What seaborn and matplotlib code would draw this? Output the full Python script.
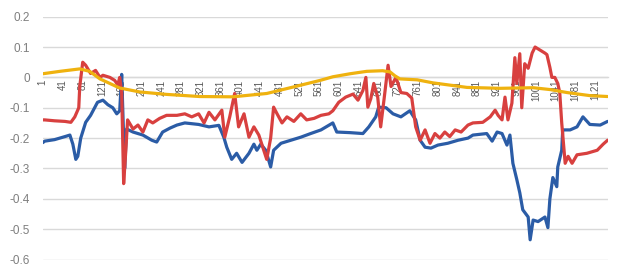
import numpy as np
import pandas as pd
import matplotlib
matplotlib.use("Agg")
import matplotlib.pyplot as plt
import seaborn as sns

# ---- data (index positions and values) ----
yellow_x = [1, 36, 76, 96, 117, 137, 157, 198, 252, 319, 386, 455, 508, 563, 589, 624,
            658, 690, 705, 715, 725, 760, 792, 861, 928, 995, 1029, 1064, 1110, 1146]
yellow_y = [0.012, 0.02, 0.028, 0.02, -0.005, -0.02, -0.035, -0.048, -0.056, -0.063, -0.064,
            -0.053, -0.032, -0.01, 0.002, 0.012, 0.02, 0.022, 0.018, 0.005, -0.005, -0.008,
            -0.018, -0.033, -0.036, -0.034, -0.04, -0.05, -0.06, -0.063]

blue_x = [1, 5, 25, 46, 56, 62, 68, 72, 78, 88, 98, 112, 123, 133, 143, 151, 157, 161, 165, 167,
          171, 184, 204, 222, 232, 244, 259, 273, 289, 317, 338, 358, 368, 374, 384, 394, 405,
          419, 429, 435, 443, 453, 463, 469, 484, 504, 524, 544, 565, 589, 597, 624, 650, 662,
          676, 682, 697, 711, 727, 745, 757, 766, 776, 788, 802, 822, 843, 863, 873, 901, 912,
          922, 932, 942, 948, 954, 962, 968, 974, 985, 989, 995, 1005, 1019, 1025, 1029, 1035,
          1043, 1045, 1053, 1055, 1070, 1084, 1096, 1110, 1131, 1146]
blue_y = [-0.215, -0.21, -0.205, -0.195, -0.19, -0.22, -0.27, -0.26, -0.2, -0.148, -0.125,
          -0.082, -0.075, -0.09, -0.1, -0.12, -0.11, 0.01, -0.2, -0.3, -0.17, -0.18, -0.19,
          -0.207, -0.213, -0.18, -0.167, -0.157, -0.15, -0.155, -0.163, -0.158, -0.197, -0.23,
          -0.27, -0.25, -0.28, -0.25, -0.22, -0.24, -0.22, -0.24, -0.295, -0.24, -0.217,
          -0.207, -0.197, -0.185, -0.173, -0.15, -0.18, -0.182, -0.185, -0.163, -0.13, -0.098,
          -0.1, -0.12, -0.13, -0.11, -0.14, -0.207, -0.23, -0.233, -0.223, -0.217, -0.207,
          -0.2, -0.19, -0.185, -0.21, -0.18, -0.185, -0.223, -0.19, -0.283, -0.337, -0.38,
          -0.436, -0.46, -0.535, -0.47, -0.475, -0.46, -0.495, -0.4, -0.33, -0.36, -0.295,
          -0.24, -0.173, -0.173, -0.163, -0.13, -0.155, -0.157, -0.145]

red_x = [1, 5, 25, 46, 58, 66, 74, 76, 82, 88, 98, 108, 117, 123, 137, 147, 153, 157, 161, 165,
         169, 173, 184, 194, 204, 214, 224, 238, 252, 273, 289, 303, 317, 328, 338, 350, 364,
         370, 380, 390, 398, 409, 419, 429, 439, 449, 455, 463, 469, 476, 486, 496, 510, 524,
         536, 551, 565, 581, 589, 601, 615, 630, 640, 650, 656, 660, 666, 672, 680, 686, 693,
         701, 707, 717, 727, 739, 749, 757, 766, 776, 786, 796, 806, 816, 826, 837, 849, 863,
         873, 893, 908, 918, 924, 932, 938, 944, 952, 958, 962, 968, 972, 978, 985, 993, 999,
         1009, 1019, 1023, 1029, 1033, 1039, 1045, 1049, 1053, 1060, 1066, 1074, 1084, 1104,
         1125, 1137, 1146]
red_y = [-0.14, -0.14, -0.143, -0.145, -0.148, -0.13, -0.1, -0.03, 0.05, 0.04, 0.013, 0.023,
         0.0, 0.007, 0.0, -0.01, -0.025, 0.0, -0.05, -0.35, -0.25, -0.14, -0.17, -0.157, -0.18,
         -0.14, -0.15, -0.135, -0.125, -0.125, -0.12, -0.13, -0.12, -0.15, -0.115, -0.14,
         -0.108, -0.197, -0.13, -0.053, -0.163, -0.12, -0.197, -0.163, -0.19, -0.24, -0.27,
         -0.2, -0.098, -0.12, -0.15, -0.13, -0.145, -0.12, -0.14, -0.135, -0.125, -0.12,
         -0.11, -0.082, -0.065, -0.055, -0.075, -0.043, 0.0, -0.098, -0.07, -0.02, -0.065,
         -0.163, -0.07, 0.04, -0.03, 0.0, -0.05, -0.053, -0.068, -0.163, -0.207, -0.173,
         -0.217, -0.185, -0.2, -0.18, -0.195, -0.173, -0.18, -0.157, -0.15, -0.148, -0.13,
         -0.108, -0.125, -0.14, -0.065, -0.14, -0.085, 0.065, -0.02, 0.078, -0.1, 0.045, 0.03,
         0.08, 0.1, 0.09, 0.08, 0.075, 0.033, 0.0, 0.0, -0.02, -0.05, -0.15, -0.283, -0.26,
         -0.283, -0.255, -0.25, -0.24, -0.22, -0.207]

x_tick_values = list(range(1, 1122, 40))
y_tick_values = [-0.6, -0.5, -0.4, -0.3, -0.2, -0.1, 0.0, 0.1, 0.2]

colors = {"blue": "#2b5ca6", "red": "#d8403f", "yellow": "#efb20f"}

# ---- figure ----
sns.set_theme(style="white")
plt.rcParams["font.family"] = ["Liberation Sans", "DejaVu Sans"]
plt.rcParams["axes.unicode_minus"] = False

fig = plt.figure(figsize=(6.26, 2.67), dpi=100)
ax = fig.add_axes([0.0679, 0.028, 0.9031, 0.9095])

for xs, ys, c in [(blue_x, blue_y, colors["blue"]),
                  (red_x, red_y, colors["red"]),
                  (yellow_x, yellow_y, colors["yellow"])]:
    df = pd.DataFrame({"x": xs, "y": ys})
    sns.lineplot(data=df, x="x", y="y", ax=ax, color=c, linewidth=2.3,
                 estimator=None, sort=False)

ax.set_xlim(0.5, 1146.5)
ax.set_ylim(-0.6, 0.2)
ax.set_yticks(y_tick_values)
ax.set_yticklabels(["0" if abs(v) < 1e-9 else f"{v:.1f}" for v in y_tick_values])
ax.yaxis.grid(True, color="#d9d9d9", linewidth=1.0)
ax.set_axisbelow(True)
ax.set_xlabel("")
ax.set_ylabel("")

for s in ["left", "right", "top"]:
    ax.spines[s].set_visible(False)
ax.spines["bottom"].set_position(("data", 0))
ax.spines["bottom"].set_color("#d9d9d9")
ax.spines["bottom"].set_linewidth(1.0)
ax.spines["bottom"].set_zorder(0.5)

ax.set_xticks(x_tick_values)
ax.set_xticklabels([str(v) for v in x_tick_values], rotation=90)
ax.tick_params(axis="x", length=0, pad=1.5, labelsize=7, labelcolor="#595959")
ax.tick_params(axis="y", length=0, pad=9, labelsize=8.5, labelcolor="#7f7f7f")
for lbl in ax.get_xticklabels():
    lbl.set_zorder(1)

fig.savefig("out.png", dpi=100)
